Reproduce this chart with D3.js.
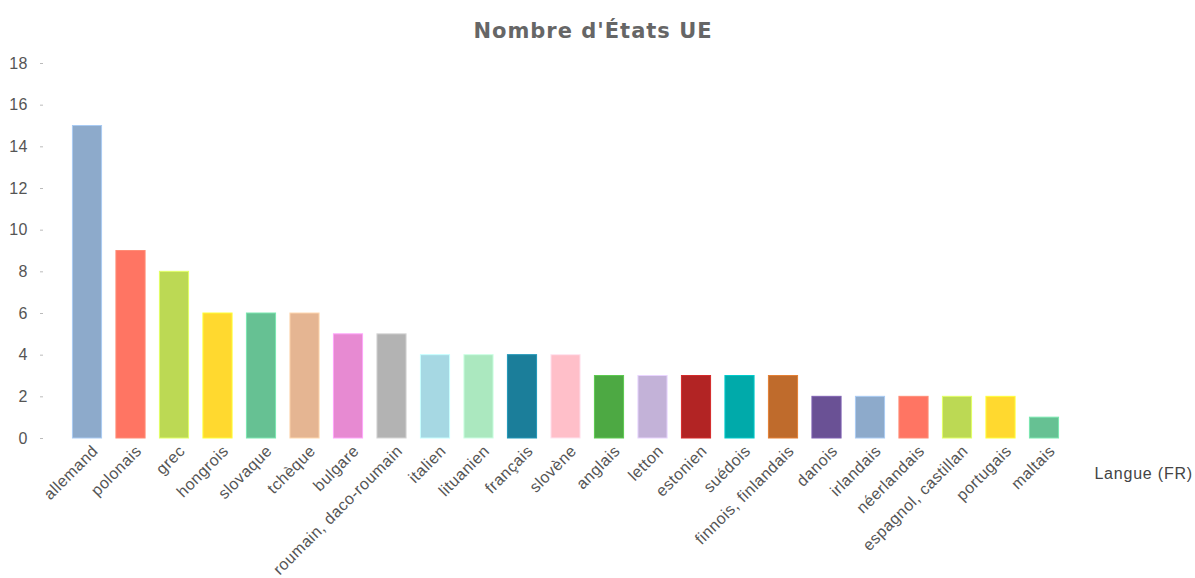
<!DOCTYPE html>
<html><head><meta charset="utf-8">
<script src="https://cdn.jsdelivr.net/npm/d3@7"></script>
<style>body{margin:0;background:#fff;} svg{display:block;}</style>
</head><body>
<svg id="c" width="1195" height="578"></svg>
<script>
const categories = ["allemand","polonais","grec","hongrois","slovaque","tchèque","bulgare","roumain, daco-roumain","italien","lituanien","français","slovène","anglais","letton","estonien","suédois","finnois, finlandais","danois","irlandais","néerlandais","espagnol, castillan","portugais","maltais"];
const values = [15,9,8,6,6,6,5,5,4,4,4,4,3,3,3,3,3,2,2,2,2,2,1];
const colors = ["#8DAACB","#FF7563","#BCD954","#FFD92F","#66C193","#E5B592","#E78AD2","#B3B3B3","#A6D8E3","#ABE8BF","#1B7E9A","#FFBFC9","#4DA943","#C3B2D8","#B22424","#00AAAA","#BF6B2C","#6A5195","#8DAACB","#FF7563","#BCD954","#FFD92F","#66C193"];
const yTicks = [0,2,4,6,8,10,12,14,16,18];
const title = "Nombre d'États UE";
const xTitle = "Langue (FR)";

const svg = d3.select("#c");
const x = d3.scaleBand().domain(categories).range([65.25, 1065.75]).paddingInner(0.33).paddingOuter(0.165);
const y = d3.scaleLinear().domain([0,18]).range([438, 63]);

svg.append("text").attr("x", 593).attr("y", 38).attr("text-anchor","middle")
  .attr("font-family","'DejaVu Sans', Verdana, sans-serif").attr("font-weight","bold")
  .attr("font-size", 21).attr("letter-spacing", 1).attr("fill","#666").text(title);

const ya = svg.append("g").attr("transform","translate(43,0)")
  .call(d3.axisLeft(y).tickValues(yTicks).tickSize(3).tickPadding(12));
ya.select(".domain").remove();
ya.selectAll(".tick line").attr("stroke","#bbb");
ya.selectAll(".tick text").attr("font-family","Arial, 'Liberation Sans', sans-serif").attr("font-size",16).attr("letter-spacing",0.5).attr("fill","#555");

svg.append("g").selectAll("rect").data(categories).join("rect")
  .attr("x", d => x(d)).attr("width", x.bandwidth())
  .attr("y", (d,i) => y(values[i])).attr("height", (d,i) => y(0) - y(values[i]))
  .attr("fill", (d,i) => colors[i])
  .attr("stroke", (d,i) => d3.color(colors[i]).brighter(0.5)).attr("stroke-width", 1);

svg.append("g").selectAll("text").data(categories).join("text")
  .attr("transform", d => `translate(${x(d) + x.bandwidth()/2 + 8},${448}) rotate(-45)`)
  .attr("text-anchor","end").attr("dy","0.35em")
  .attr("font-family","Arial, 'Liberation Sans', sans-serif").attr("font-size",16).attr("letter-spacing",0.5).attr("fill","#555")
  .text(d => d);

svg.append("text").attr("x", 1193).attr("y", 479).attr("text-anchor","end")
  .attr("font-family","Arial, 'Liberation Sans', sans-serif").attr("font-size",16).attr("letter-spacing",0.8).attr("fill","#444")
  .text(xTitle);
</script>
</body></html>
